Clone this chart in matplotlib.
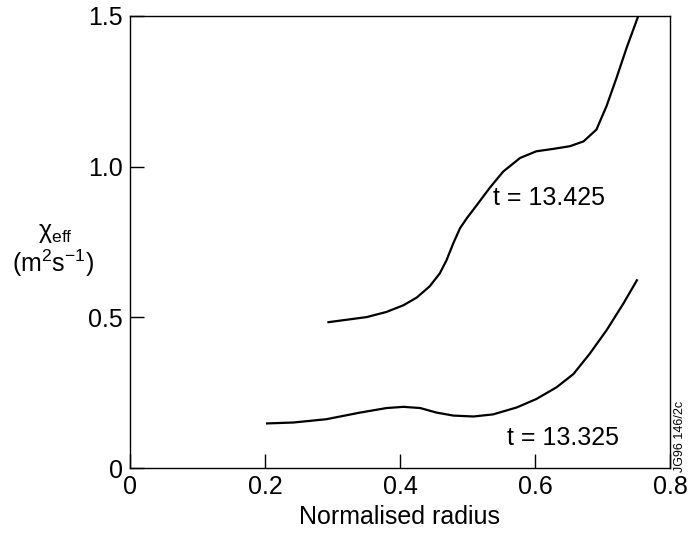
import matplotlib
matplotlib.use("Agg")
import matplotlib.pyplot as plt

plt.rcParams["font.family"] = ["Liberation Sans", "DejaVu Sans"]

# t = 13.425 profile
r_425 = [0.294, 0.321, 0.351, 0.380, 0.405, 0.425, 0.444, 0.459, 0.469, 0.479,
         0.489, 0.499, 0.514, 0.533, 0.553, 0.578, 0.602, 0.627, 0.652, 0.672,
         0.691, 0.706, 0.721, 0.736, 0.753]
chi_425 = [0.484, 0.492, 0.501, 0.518, 0.540, 0.566, 0.603, 0.646, 0.690, 0.746,
           0.796, 0.829, 0.873, 0.930, 0.984, 1.029, 1.051, 1.059, 1.068, 1.084,
           1.123, 1.201, 1.296, 1.396, 1.500]

# t = 13.325 profile
r_325 = [0.203, 0.242, 0.291, 0.341, 0.380, 0.405, 0.430, 0.454, 0.479, 0.509,
         0.538, 0.573, 0.602, 0.632, 0.657, 0.681, 0.706, 0.731, 0.751]
chi_325 = [0.148, 0.151, 0.162, 0.184, 0.199, 0.203, 0.199, 0.184, 0.174, 0.171,
           0.178, 0.201, 0.229, 0.268, 0.312, 0.379, 0.457, 0.546, 0.623]

x_ticks = [0, 0.2, 0.4, 0.6, 0.8]
x_tick_labels = ["0", "0.2", "0.4", "0.6", "0.8"]
y_ticks = [0, 0.5, 1.0, 1.5]
y_tick_labels = ["0", "0.5", "1.0", "1.5"]

fig = plt.figure(figsize=(6.89, 5.35), dpi=100)
ax = fig.add_axes([0.1887, 0.1252, 0.9724 - 0.1887, 0.9701 - 0.1252])

ax.plot(r_425, chi_425, color="black", lw=1.6)
ax.plot(r_325, chi_325, color="black", lw=1.6)

ax.set_xlim(0, 0.8)
ax.set_ylim(0, 1.5)
ax.set_xticks(x_ticks)
ax.set_xticklabels(x_tick_labels)
ax.set_yticks(y_ticks)
ax.set_yticklabels(y_tick_labels)
ax.tick_params(direction="in", length=10, width=1.0, labelsize=18, pad=5)
for sp in ax.spines.values():
    sp.set_linewidth(1.0)

ax.set_xlabel("Normalised radius", fontsize=18, labelpad=4)

ax.text(0.538, 0.897, "t = 13.425", fontsize=18, va="center", ha="left")
ax.text(0.558, 0.100, "t = 13.325", fontsize=18, va="center", ha="left")

fig.text(55 / 689, 1 - 233 / 535, r"χ$_{\mathregular{eff}}$", fontsize=18,
         ha="center", va="center")
fig.text(53 / 689, 1 - 263 / 535, r"(m$^\mathregular{2}$s$^\mathregular{-1}$)",
         fontsize=18, ha="center", va="center")
fig.text(680 / 689, 1 - 472 / 535, "JG96 146/2c", fontsize=9, rotation=90,
         ha="center", va="bottom")

fig.savefig("out.png", dpi=100)
